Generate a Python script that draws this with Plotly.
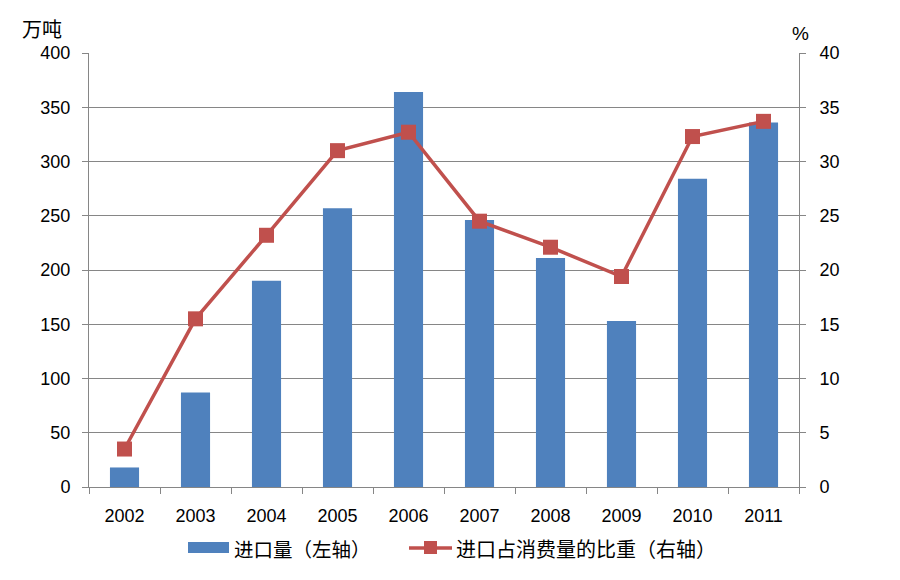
import plotly.graph_objects as go

years = ["2002", "2003", "2004", "2005", "2006", "2007", "2008", "2009", "2010", "2011"]
imports = [18, 87, 190, 257, 364, 246, 211, 153, 284, 336]
share = [3.5, 15.5, 23.2, 31.0, 32.7, 24.5, 22.1, 19.4, 32.3, 33.7]

bar_name = "进口量（左轴）"
line_name = "进口占消费量的比重（右轴）"

font_family = "Liberation Sans, Noto Sans CJK SC, sans-serif"
cjk = "Noto Sans CJK SC, sans-serif"
axis_color = "#868686"
blue = "#4F81BD"
red = "#C0504D"

W, H = 900, 580
L, R, T, B = 89, 101, 53, 93
pw, ph = W - L - R, H - T - B

def px(x):
    return (x - L) / pw

def py(y):
    return (H - B - y) / ph

fig = go.Figure()
fig.add_trace(go.Bar(
    x=years, y=imports, name=bar_name,
    marker=dict(color=blue, line=dict(width=0)),
    width=0.41, yaxis="y", showlegend=False,
))
fig.add_trace(go.Scatter(
    x=years, y=share, name=line_name,
    mode="lines+markers",
    line=dict(color=red, width=3.5),
    marker=dict(symbol="square", size=15, color=red),
    yaxis="y2", showlegend=False,
))

fig.update_layout(
    width=W, height=H,
    margin=dict(l=L, r=R, t=T, b=B, autoexpand=False),
    plot_bgcolor="white", paper_bgcolor="white",
    font=dict(family=font_family, size=18, color="#000000"),
    showlegend=False,
    xaxis=dict(
        type="category", range=[-0.5, len(years) - 0.5],
        showline=True, linecolor=axis_color, linewidth=1,
        ticks="outside", tickson="boundaries", ticklen=6, tickcolor=axis_color,
        showgrid=False, tickfont=dict(size=18), automargin=False,
        ticklabelstandoff=12,
    ),
    yaxis=dict(
        range=[0, 400], dtick=50, showline=True, linecolor=axis_color, linewidth=1,
        ticks="outside", ticklen=6, tickcolor=axis_color,
        showgrid=True, gridcolor=axis_color, gridwidth=1, zeroline=False,
        tickfont=dict(size=18), automargin=False, ticklabelstandoff=8,
    ),
    yaxis2=dict(
        range=[0, 40], dtick=5, overlaying="y", side="right",
        showline=True, linecolor=axis_color, linewidth=1,
        ticks="outside", ticklen=6, tickcolor=axis_color,
        showgrid=False, zeroline=False, tickfont=dict(size=18), automargin=False,
        ticklabelstandoff=10,
    ),
)

# axis unit labels
fig.add_annotation(text="万吨", xref="paper", yref="paper", x=px(42), y=py(28),
                   xanchor="center", yanchor="middle", showarrow=False,
                   font=dict(size=20, family=cjk))
fig.add_annotation(text="%", xref="paper", yref="paper", x=px(800), y=py(34),
                   xanchor="center", yanchor="middle", showarrow=False,
                   font=dict(size=19))

# custom legend
ly = 548
fig.add_shape(type="rect", xref="paper", yref="paper",
              x0=px(188), x1=px(229), y0=py(553), y1=py(542),
              fillcolor=blue, line=dict(width=0))
fig.add_annotation(text=bar_name, xref="paper", yref="paper", x=px(232), y=py(ly),
                   xanchor="left", yanchor="middle", showarrow=False,
                   font=dict(size=19.5, family=cjk))
fig.add_shape(type="line", xref="paper", yref="paper",
              x0=px(409), x1=px(452), y0=py(ly), y1=py(ly),
              line=dict(color=red, width=3.5))
fig.add_shape(type="rect", xref="paper", yref="paper",
              x0=px(424), x1=px(437), y0=py(554), y1=py(541),
              fillcolor=red, line=dict(width=0))
fig.add_annotation(text=line_name, xref="paper", yref="paper", x=px(454), y=py(ly),
                   xanchor="left", yanchor="middle", showarrow=False,
                   font=dict(size=20, family=cjk))

fig.write_html("out.html",
               config={"displayModeBar": False},
               post_script="document.body.style.margin='0';document.body.style.overflow='hidden';")
